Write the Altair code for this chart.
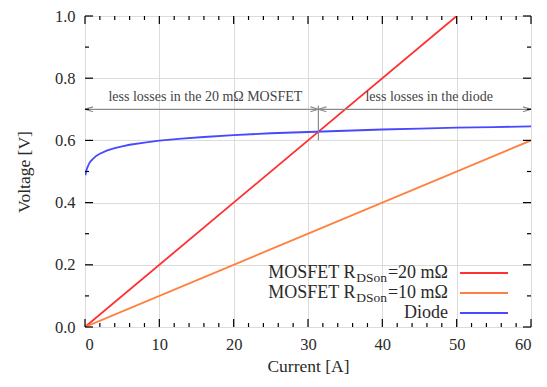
import altair as alt
import pandas as pd
import numpy as np

# ---- data ----
mos20_current = [0, 50]
mos20_voltage = [0.0, 1.0]
mos10_current = [0, 60]
mos10_voltage = [0.0, 0.6]
diode_current = [0.08, 0.15, 0.3, 0.5, 0.7, 1, 1.5, 2, 3, 4, 5, 6, 8, 10, 13, 16, 20,
                 25, 30, 35, 40, 45, 50, 55, 60]
diode_voltage = [0.488, 0.500, 0.512, 0.523, 0.531, 0.539, 0.550, 0.557, 0.568, 0.575,
                 0.581, 0.586, 0.593, 0.599, 0.606, 0.611, 0.617, 0.623, 0.627, 0.631,
                 0.635, 0.638, 0.641, 0.643, 0.645]
crossing_current = 31.4
arrow_voltage = 0.70
vline_voltage = [0.60, 0.712]
annot_labels = ["less losses in the 20 mΩ MOSFET", "less losses in the diode"]
annot_x = [16.2, 46.3]
annot_y = [0.738, 0.738]
x_major = [0, 10, 20, 30, 40, 50, 60]
y_major = [0.0, 0.2, 0.4, 0.6, 0.8, 1.0]

W, H = 446, 311
FONT = "Liberation Serif"
RED, ORANGE, BLUE = "#ff3030", "#ff8040", "#4848ff"
GRAY = "#8a8a8a"
TXT = "#2a2a2a"

xs = alt.Scale(domain=[0, 60], nice=False, zero=False)
ys = alt.Scale(domain=[0, 1], nice=False, zero=False)

XAX = alt.Axis(values=x_major, title="Current [A]", grid=True,
               gridColor="#dcdcdc", ticks=False, domain=False, labelFont=FONT, labelFontSize=16.5,
               labelColor=TXT, labelPadding=9, titleFont=FONT, titleFontSize=17.5,
               titleFontWeight="normal", titleColor=TXT, titlePadding=5)
YAX = alt.Axis(values=y_major, format=".1f", title="Voltage [V]",
               grid=True, gridColor="#dcdcdc", ticks=False, domain=False, labelFont=FONT,
               labelFontSize=16.5, labelColor=TXT, labelPadding=10, titleFont=FONT,
               titleFontSize=17.5, titleFontWeight="normal", titleColor=TXT, titlePadding=21)

def X(f):
    return alt.X(f, scale=xs, axis=XAX)

def Y(f):
    return alt.Y(f, scale=ys, axis=YAX)

lines_df = pd.concat([
    pd.DataFrame({"I": mos20_current, "V": mos20_voltage, "s": "m20"}),
    pd.DataFrame({"I": mos10_current, "V": mos10_voltage, "s": "m10"}),
    pd.DataFrame({"I": diode_current, "V": diode_voltage, "s": "diode"}),
])

main = alt.Chart(lines_df).mark_line(strokeWidth=1.8, clip=True).encode(
    x=X("I:Q"), y=Y("V:Q"),
    color=alt.Color("s:N", scale=alt.Scale(domain=["m20", "m10", "diode"], range=[RED, ORANGE, BLUE]),
                    legend=None),
    detail="s:N",
)

# inward ticks
def xticks(vals, length):
    df = pd.DataFrame({"I": vals})
    b = alt.Chart(df).mark_rule(color="black", strokeWidth=1.2).encode(
        x=X("I:Q"), y=alt.value(H), y2=alt.value(H - length))
    t = alt.Chart(df).mark_rule(color="black", strokeWidth=1.2).encode(
        x=X("I:Q"), y=alt.value(0), y2=alt.value(length))
    return [b, t]

def yticks(vals, length):
    df = pd.DataFrame({"V": vals})
    l = alt.Chart(df).mark_rule(color="black", strokeWidth=1.2).encode(
        y=Y("V:Q"), x=alt.value(0), x2=alt.value(length))
    r = alt.Chart(df).mark_rule(color="black", strokeWidth=1.2).encode(
        y=Y("V:Q"), x=alt.value(W), x2=alt.value(W - length))
    return [l, r]

x_minor = [v for v in np.arange(0, 61, 2).tolist() if v % 10 != 0]
y_minor = [0.1, 0.3, 0.5, 0.7, 0.9]
tick_layers = xticks(x_major, 8) + xticks(x_minor, 4) + yticks(y_major, 8) + yticks(y_minor, 4)

# annotation arrows
arrow_df = pd.DataFrame({"I": [0, 60], "V": [arrow_voltage, arrow_voltage]})
arrow_line = alt.Chart(arrow_df).mark_line(color=GRAY, strokeWidth=1.2).encode(x=X("I:Q"), y=Y("V:Q"))
vline_df = pd.DataFrame({"I": [crossing_current, crossing_current], "V": vline_voltage})
vline = alt.Chart(vline_df).mark_line(color=GRAY, strokeWidth=1.2).encode(x=X("I:Q"), y=Y("V:Q"))

LEFT_HEAD = "M0,0L2,-0.6M0,0L2,0.6"
RIGHT_HEAD = "M0,0L-2,-0.6M0,0L-2,0.6"
lh_df = pd.DataFrame({"I": [0, crossing_current], "V": [arrow_voltage] * 2})
rh_df = pd.DataFrame({"I": [crossing_current, 60], "V": [arrow_voltage] * 2})
lheads = alt.Chart(lh_df).mark_point(shape=LEFT_HEAD, size=64, filled=False, color=GRAY,
                                     strokeWidth=1.2, opacity=1).encode(x=X("I:Q"), y=Y("V:Q"))
rheads = alt.Chart(rh_df).mark_point(shape=RIGHT_HEAD, size=64, filled=False, color=GRAY,
                                     strokeWidth=1.2, opacity=1).encode(x=X("I:Q"), y=Y("V:Q"))

annot_df = pd.DataFrame({"I": annot_x, "V": annot_y, "txt": annot_labels})
annot = alt.Chart(annot_df).mark_text(font=FONT, fontSize=14, color="#444",
                                      baseline="middle", align="center").encode(
    x=X("I:Q"), y=Y("V:Q"), text="txt:N")

# custom legend (pixel layout)
leg_layers = []
x_end = 363
main_fs, sub_fs = 18, 13.5
w_tail = 61
w_sub = 31.5
rows = [("=20 mΩ", RED, 257), ("=10 mΩ", ORANGE, 277)]
one = pd.DataFrame({"a": [0]})
for tail, col, yy in rows:
    leg_layers.append(alt.Chart(one).mark_text(font=FONT, fontSize=main_fs, color=TXT,
                      align="right", baseline="middle", text=tail).encode(
        x=alt.value(x_end), y=alt.value(yy)))
    leg_layers.append(alt.Chart(one).mark_text(font=FONT, fontSize=sub_fs, color=TXT,
                      align="right", baseline="middle", text="DSon").encode(
        x=alt.value(x_end - w_tail), y=alt.value(yy + 5)))
    leg_layers.append(alt.Chart(one).mark_text(font=FONT, fontSize=main_fs, color=TXT,
                      align="right", baseline="middle", text="MOSFET R").encode(
        x=alt.value(x_end - w_tail - w_sub), y=alt.value(yy)))
    leg_layers.append(alt.Chart(one).mark_rule(color=col, strokeWidth=1.8).encode(
        x=alt.value(375), x2=alt.value(423), y=alt.value(yy)))
leg_layers.append(alt.Chart(one).mark_text(font=FONT, fontSize=main_fs, color=TXT,
                  align="right", baseline="middle", text="Diode").encode(
    x=alt.value(x_end), y=alt.value(297)))
leg_layers.append(alt.Chart(one).mark_rule(color=BLUE, strokeWidth=1.8).encode(
    x=alt.value(375), x2=alt.value(423), y=alt.value(297)))

chart = alt.layer(main, arrow_line, vline, lheads, rheads, annot, *tick_layers, *leg_layers).properties(
    width=W, height=H,
    autosize=alt.AutoSizeParams(type="none"),
    padding={"left": 77, "top": 8, "right": 8, "bottom": 52},
).configure_view(stroke="black", strokeWidth=1.5).configure(background="white")

chart.save("out.html", embed_options={"renderer": "svg", "actions": False})
